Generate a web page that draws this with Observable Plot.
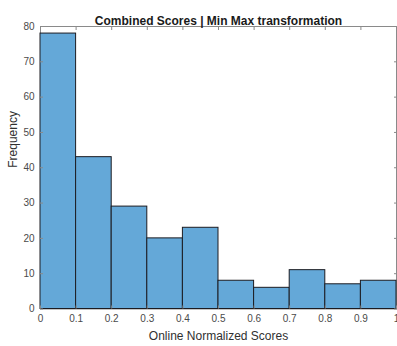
<!DOCTYPE html>
<html>
<head>
<meta charset="utf-8">
<script src="https://cdn.jsdelivr.net/npm/d3@7"></script>
<script src="https://cdn.jsdelivr.net/npm/@observablehq/plot@0.6"></script>
<style>
  html, body { margin: 0; padding: 0; background: #fff; }
  #chart svg { display: block; }
</style>
</head>
<body>
<div id="chart"></div>
<script>
// Histogram of normalized scores: bin edges and counts per bin
const binEdges = [0, 0.1, 0.2, 0.3, 0.4, 0.5, 0.6, 0.7, 0.8, 0.9, 1.0];
const counts = [78, 43, 29, 20, 23, 8, 6, 11, 7, 8];

// Axis ticks and their labels
const xTicks = [0, 0.1, 0.2, 0.3, 0.4, 0.5, 0.6, 0.7, 0.8, 0.9, 1.0];
const xTickLabels = ["0", "0.1", "0.2", "0.3", "0.4", "0.5", "0.6", "0.7", "0.8", "0.9", "1"];
const yTicks = [0, 10, 20, 30, 40, 50, 60, 70, 80];

const chartTitle = "Combined Scores | Min Max transformation";
const xLabel = "Online Normalized Scores";
const yLabel = "Frequency";

const bins = counts.map((c, i) => ({ x1: binEdges[i], x2: binEdges[i + 1], count: c }));

const font = "'Liberation Sans', Arial, Helvetica, sans-serif";
const axisLine = "#8a8a8a";
const tickText = "#4a4a4a";

const chart = Plot.plot({
  width: 397,
  height: 346,
  marginLeft: 40,
  marginRight: 1,
  marginTop: 26,
  marginBottom: 37.5,
  style: { fontFamily: font, background: "#fff" },
  x: { domain: [0, 1] },
  y: { domain: [0, 80] },
  marks: [
    Plot.frame({ stroke: axisLine }),
    Plot.rectY(bins, {
      x1: "x1", x2: "x2", y: "count",
      fill: "#64a8d8", stroke: "#1c1c22", strokeWidth: 1
    }),
    // inward ticks on all four sides, labels on bottom and left
    Plot.axisX(xTicks, {
      anchor: "bottom", tickSize: -3, tickPadding: 9, label: null,
      tickFormat: d => xTickLabels[xTicks.indexOf(d)],
      fontSize: 10, fill: tickText, stroke: axisLine
    }),
    Plot.axisX(xTicks, {
      anchor: "top", tickSize: -3, label: null, tickFormat: () => "",
      stroke: axisLine
    }),
    Plot.axisY(yTicks, {
      anchor: "left", tickSize: -3, tickPadding: 9, label: null,
      tickFormat: d => String(d),
      fontSize: 10, fill: tickText, stroke: axisLine
    }),
    Plot.axisY(yTicks, {
      anchor: "right", tickSize: -3, label: null, tickFormat: () => "",
      stroke: axisLine
    }),
    Plot.text([chartTitle], {
      text: d => d, frameAnchor: "top", dy: -10,
      fontSize: 12, fontWeight: "bold", fill: "#1a1a1a"
    }),
    Plot.text([xLabel], {
      text: d => d, frameAnchor: "bottom", dy: 30.5,
      fontSize: 12, fill: "#303030"
    }),
    Plot.text([yLabel], {
      text: d => d, frameAnchor: "left", dx: -27, rotate: -90,
      fontSize: 12, fill: "#303030"
    })
  ]
});

document.getElementById("chart").appendChild(chart);
</script>
</body>
</html>
